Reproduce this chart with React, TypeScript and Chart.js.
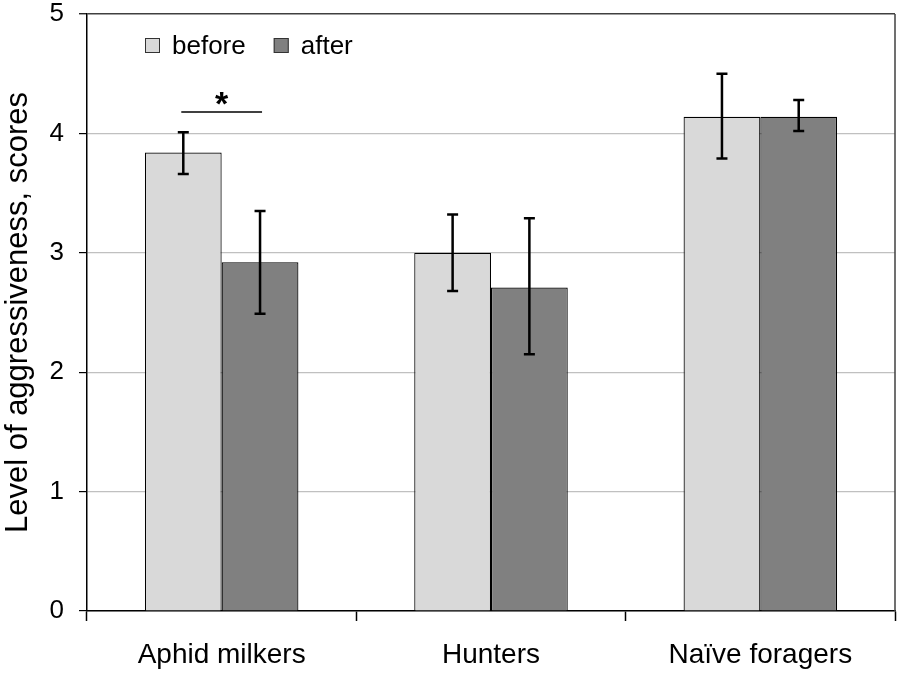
import React, { useEffect, useRef } from "react";
import { Chart, registerables } from "chart.js";

Chart.register(...registerables);

const categories = ["Aphid milkers", "Hunters", "Naïve foragers"];
const seriesNames = ["before", "after"];
const beforeValues = [3.84, 3.0, 4.14];
const afterValues = [2.92, 2.71, 4.14];
const beforeLow = [3.66, 2.68, 3.79];
const beforeHigh = [4.01, 3.32, 4.5];
const afterLow = [2.49, 2.15, 4.02];
const afterHigh = [3.35, 3.29, 4.28];
const yTicks = [0, 1, 2, 3, 4, 5];
const yTitle = "Level of aggressiveness, scores";
const sigMark = "*";
const sigCategory = 0;
const sigLevel = 4.18;

const FONT = "'Liberation Sans', Arial, sans-serif";

const errorBarPlugin = {
  id: "errorBars",
  afterDatasetsDraw(chart: any) {
    const { ctx } = chart;
    const yScale = chart.scales.y;
    const lows = [beforeLow, afterLow];
    const highs = [beforeHigh, afterHigh];
    ctx.save();
    ctx.strokeStyle = "#000";
    ctx.lineWidth = 2.5;
    chart.data.datasets.forEach((_ds: any, di: number) => {
      const meta = chart.getDatasetMeta(di);
      meta.data.forEach((bar: any, i: number) => {
        const x = bar.x;
        const yl = yScale.getPixelForValue(lows[di][i]);
        const yh = yScale.getPixelForValue(highs[di][i]);
        ctx.beginPath();
        ctx.moveTo(x, yl);
        ctx.lineTo(x, yh);
        ctx.moveTo(x - 5.5, yl);
        ctx.lineTo(x + 5.5, yl);
        ctx.moveTo(x - 5.5, yh);
        ctx.lineTo(x + 5.5, yh);
        ctx.stroke();
      });
    });
    // significance bracket
    const b0 = chart.getDatasetMeta(0).data[sigCategory];
    const b1 = chart.getDatasetMeta(1).data[sigCategory];
    const ly = yScale.getPixelForValue(sigLevel);
    ctx.lineWidth = 1.5;
    ctx.beginPath();
    ctx.moveTo(b0.x - 2, ly);
    ctx.lineTo(b1.x + 2, ly);
    ctx.stroke();
    ctx.fillStyle = "#000";
    ctx.font = `bold 34px ${FONT}`;
    ctx.textAlign = "center";
    ctx.textBaseline = "alphabetic";
    ctx.fillText(sigMark, (b0.x + b1.x) / 2, ly + 3);

    // frame right border
    const a = chart.chartArea;
    ctx.strokeStyle = "#404040";
    ctx.lineWidth = 1.5;
    ctx.beginPath();
    ctx.moveTo(a.right, a.top);
    ctx.lineTo(a.right, a.bottom);
    ctx.stroke();

    // legend inside plot
    ctx.font = `26px ${FONT}`;
    ctx.textAlign = "left";
    ctx.textBaseline = "alphabetic";
    let lx = a.left + 58;
    const sy = a.top + 24;
    chart.data.datasets.forEach((ds: any) => {
      ctx.fillStyle = ds.backgroundColor;
      ctx.fillRect(lx, sy, 15, 15);
      ctx.strokeStyle = "#333";
      ctx.lineWidth = 1;
      ctx.strokeRect(lx + 0.5, sy + 0.5, 14, 14);
      ctx.fillStyle = "#000";
      ctx.fillText(ds.label, lx + 27, sy + 16);
      lx += 27 + ctx.measureText(ds.label).width + 28;
    });
    ctx.restore();
  },
};

export default function App() {
  const ref = useRef<HTMLCanvasElement>(null);
  useEffect(() => {
    document.body.style.margin = "0";
    const chart = new Chart(ref.current!, {
      type: "bar",
      data: {
        labels: categories,
        datasets: [
          {
            label: seriesNames[0],
            data: beforeValues,
            backgroundColor: "#d9d9d9",
            borderColor: "#000",
            borderWidth: 1.2,
            categoryPercentage: 0.57,
            barPercentage: 1,
          },
          {
            label: seriesNames[1],
            data: afterValues,
            backgroundColor: "#808080",
            borderColor: "#000",
            borderWidth: 1.2,
            categoryPercentage: 0.57,
            barPercentage: 1,
          },
        ],
      },
      options: {
        responsive: false,
        animation: false,
        devicePixelRatio: 1,
        layout: { padding: { top: 14, right: 5, left: 0, bottom: 0 } },
        plugins: { legend: { display: false }, tooltip: { enabled: false } },
        scales: {
          x: {
            afterFit: (s: any) => {
              s.height = 62;
              s.paddingLeft = 0;
              s.paddingRight = 0;
            },
            grid: {
              offset: true,
              drawOnChartArea: false,
              drawTicks: true,
              tickLength: 10,
              tickColor: "#000",
              tickWidth: 1.5,
            },
            border: { display: true, color: "#000", width: 1.5 },
            ticks: {
              color: "#000",
              padding: 17,
              font: { family: FONT, size: 28 },
            },
          },
          y: {
            min: 0,
            max: 5,
            afterFit: (s: any) => {
              s.width = 87;
              s.paddingTop = 0;
              s.paddingBottom = 0;
            },
            afterBuildTicks: (s: any) => {
              s.ticks = yTicks.map((v) => ({ value: v }));
            },
            grid: {
              color: (c: any) => (c.tick && c.tick.value === 5 ? "#404040" : "#c0c0c0"),
              lineWidth: (c: any) => (c.tick && c.tick.value === 5 ? 1.5 : 1.2),
              drawTicks: true,
              tickLength: 8,
              tickColor: "#000",
              tickWidth: 1.2,
            },
            border: { display: true, color: "#000", width: 1.5 },
            ticks: {
              color: "#000",
              padding: 15,
              font: { family: FONT, size: 26 },
            },
            title: {
              display: true,
              text: yTitle,
              color: "#000",
              font: { family: FONT, size: 31 },
              padding: { top: 0, bottom: 0 },
            },
          },
        },
      },
      plugins: [errorBarPlugin],
    } as any);
    return () => chart.destroy();
  }, []);
  return (
    <div style={{ width: 900, height: 673 }}>
      <canvas ref={ref} width={900} height={673} />
    </div>
  );
}
